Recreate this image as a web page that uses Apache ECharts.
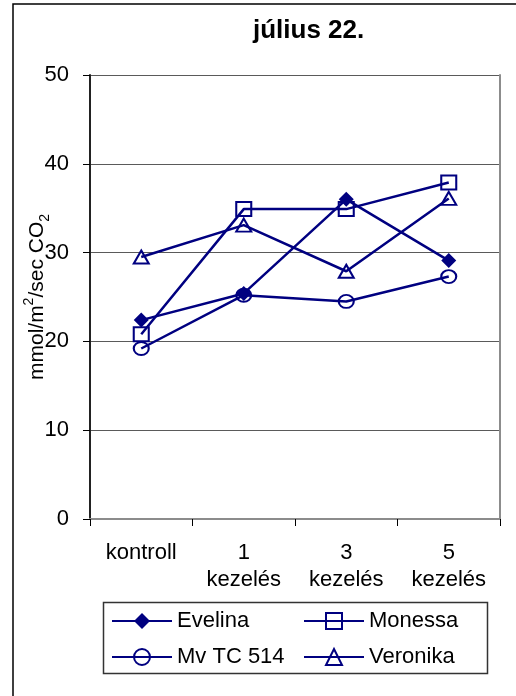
<!DOCTYPE html>
<html>
<head>
<meta charset="utf-8">
<script src="https://cdn.jsdelivr.net/npm/echarts@6/dist/echarts.min.js"></script>
<style>
  html, body { margin: 0; padding: 0; background: #fff; }
  #chart { width: 516px; height: 696px; }
</style>
</head>
<body>
<div id="chart"></div>
<script>
// Photosynthesis rate, 22 July, by treatment count
const categories = ['kontroll', '1\nkezelés', '3\nkezelés', '5\nkezelés'];
const evelina   = [22.4, 25.4, 36.0, 29.1];
const monessa   = [20.8, 34.9, 34.9, 37.9];
const mvTC514   = [19.2, 25.2, 24.5, 27.3];
const veronika  = [29.5, 33.1, 27.9, 36.1];
const yTicks    = { min: 0, max: 50, interval: 10 };

const NAVY = '#000080';
const FONT = '"Liberation Sans", Arial, sans-serif';

function lineSeries(name, data, symbol, size, filled) {
  return {
    name: name,
    type: 'line',
    data: data,
    symbol: symbol,
    symbolSize: size,
    showAllSymbol: true,
    lineStyle: { color: NAVY, width: 2.5 },
    itemStyle: {
      color: filled ? NAVY : 'rgba(255,255,255,0)',
      borderColor: NAVY,
      borderWidth: filled ? 0 : 2
    },
    emphasis: { disabled: true },
    animation: false
  };
}

const legendText = { fontFamily: FONT, fontSize: 22, color: '#000', lineHeight: 24 };

const chart = echarts.init(document.getElementById('chart'), null, { renderer: 'canvas' });
chart.setOption({
  backgroundColor: '#fff',
  animation: false,
  title: {
    text: 'július 22.',
    left: 248,
    top: 13,
    textStyle: { fontFamily: FONT, fontSize: 26, fontWeight: 'bold', color: '#000' }
  },
  grid: { left: 90, right: 16, top: 75, bottom: 177, containLabel: false, outerBoundsMode: 'none' },
  xAxis: [{
    type: 'category',
    data: categories,
    boundaryGap: true,
    axisLine: { lineStyle: { color: '#808080', width: 2 } },
    axisTick: { show: true, inside: false, length: 7, alignWithLabel: false, lineStyle: { color: '#000', width: 1 } },
    axisLabel: { fontFamily: FONT, fontSize: 22, color: '#000', lineHeight: 27, margin: 20, interval: 0 },
    splitLine: { show: false }
  }, {
    type: 'category',
    position: 'top',
    data: categories,
    axisLine: { lineStyle: { color: '#8c8c8c', width: 2 } },
    axisTick: { show: false },
    axisLabel: { show: false }
  }],
  yAxis: [{
    type: 'value',
    min: yTicks.min,
    max: yTicks.max,
    interval: yTicks.interval,
    name: 'mmol/m{sup|2}/sec CO{sub|2}',
    nameLocation: 'middle',
    nameRotate: 90,
    nameGap: 38,
    nameMoveOverlap: false,
    nameTextStyle: {
      fontFamily: FONT, fontSize: 21, color: '#000', lineHeight: 30,
      rich: {
        sup: { fontFamily: FONT, fontSize: 14, color: '#000', verticalAlign: 'top', lineHeight: 30 },
        sub: { fontFamily: FONT, fontSize: 14, color: '#000', verticalAlign: 'bottom', lineHeight: 30 }
      }
    },
    axisLine: { show: true, lineStyle: { color: '#222', width: 2 } },
    axisTick: { show: true, inside: false, length: 7, lineStyle: { color: '#000', width: 1 } },
    axisLabel: { fontFamily: FONT, fontSize: 22, color: '#000', margin: 21 },
    splitLine: { show: true, lineStyle: { color: '#5a5a5a', width: 1 } }
  }, {
    type: 'value',
    position: 'right',
    min: yTicks.min,
    max: yTicks.max,
    interval: yTicks.interval,
    axisLine: { show: true, lineStyle: { color: '#8c8c8c', width: 2 } },
    axisTick: { show: false },
    axisLabel: { show: false },
    splitLine: { show: false }
  }],
  legend: [{
    orient: 'vertical',
    left: 106,
    top: 604,
    padding: 5,
    itemWidth: 60,
    itemHeight: 20,
    itemGap: 12,
    data: ['Evelina', 'Mv TC 514'],
    textStyle: legendText,
    selectedMode: false
  }, {
    orient: 'vertical',
    left: 298,
    top: 604,
    padding: 5,
    itemWidth: 60,
    itemHeight: 20,
    itemGap: 12,
    data: ['Monessa', 'Veronika'],
    textStyle: legendText,
    selectedMode: false
  }],
  graphic: [{
    type: 'rect',
    shape: { x: 13, y: 4, width: 520, height: 720 },
    style: { fill: 'none', stroke: '#000', lineWidth: 1.5 },
    silent: true, z: -1
  }, {
    type: 'rect',
    shape: { x: 103.5, y: 602.5, width: 384, height: 71 },
    style: { fill: 'none', stroke: '#333', lineWidth: 1.5 },
    silent: true
  }],
  series: [
    lineSeries('Evelina', evelina, 'diamond', [15, 15], true),
    lineSeries('Monessa', monessa, 'rect', [15, 14], false),
    lineSeries('Mv TC 514', mvTC514, 'circle', [15, 13], false),
    lineSeries('Veronika', veronika, 'triangle', [15, 13], false)
  ]
});
</script>
</body>
</html>
